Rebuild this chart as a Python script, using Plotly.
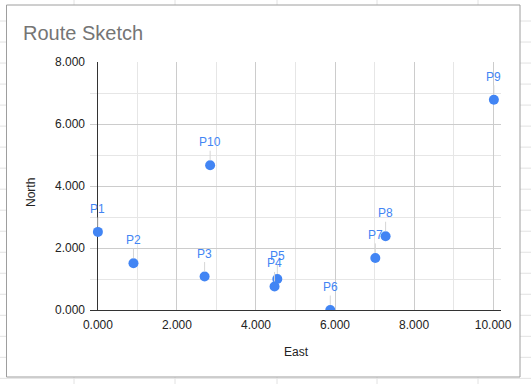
import plotly.graph_objects as go

labels = ["P1", "P2", "P3", "P4", "P5", "P6", "P7", "P8", "P9", "P10"]
east = [0.0, 0.9, 2.7, 4.47, 4.54, 5.88, 7.02, 7.28, 10.02, 2.84]
north = [2.52, 1.51, 1.08, 0.76, 1.0, 0.0, 1.68, 2.38, 6.78, 4.67]
x_ticks = [0, 2, 4, 6, 8, 10]
y_ticks = [0, 2, 4, 6, 8]

W, H = 531, 384
ML, MR, MT, MB = 90, 30, 62, 74
PW, PH = W - ML - MR, H - MT - MB


def px(x):
    return (x - ML) / PW


def py(y):
    return (H - MB - y) / PH


BLUE = "#4285F4"
FONT = "Arial, Liberation Sans, sans-serif"

fig = go.Figure()
fig.add_trace(go.Scatter(
    x=east, y=north, mode="markers",
    marker=dict(color=BLUE, size=10),
    cliponaxis=True, hoverinfo="skip", showlegend=False,
))

for lab, xv, yv in zip(labels, east, north):
    fig.add_annotation(
        x=xv, y=yv, text=lab, showarrow=True, ax=0, ay=-23,
        arrowhead=0, arrowwidth=1, arrowcolor="#d6d6d6", standoff=5,
        font=dict(color=BLUE, size=12, family=FONT),
    )

shapes = []
# spreadsheet background grid
sheet = "#e2e2e2"
for cx in [74, 175, 277, 377, 478]:
    shapes.append(dict(type="line", xref="paper", yref="paper",
                       x0=px(cx), x1=px(cx), y0=py(0), y1=py(H),
                       line=dict(color=sheet, width=1), layer="below"))
for k in range(1, 19):
    ry = 21.02 * k
    shapes.append(dict(type="line", xref="paper", yref="paper",
                       x0=px(0), x1=px(W), y0=py(ry), y1=py(ry),
                       line=dict(color=sheet, width=1), layer="below"))
# white chart card
shapes.append(dict(type="rect", xref="paper", yref="paper",
                   x0=px(6.5), x1=px(520), y0=py(5), y1=py(377),
                   fillcolor="white", line=dict(color="#9e9e9e", width=1),
                   layer="below"))
fig.update_layout(shapes=shapes)

fig.add_annotation(xref="paper", yref="paper", x=px(21), y=py(33),
                   xanchor="left", yanchor="middle", showarrow=False,
                   text="Route Sketch",
                   font=dict(size=20, color="#757575", family=FONT))
fig.add_annotation(xref="paper", yref="paper", x=px(31), y=py(193),
                   xanchor="center", yanchor="middle", showarrow=False,
                   text="North", textangle=-90,
                   font=dict(size=12, color="#222222", family=FONT))
fig.add_annotation(xref="paper", yref="paper", x=px(296), y=py(352),
                   xanchor="center", yanchor="middle", showarrow=False,
                   text="East",
                   font=dict(size=12, color="#222222", family=FONT))

fig.update_xaxes(
    range=[-0.2, 10.2], tickvals=x_ticks, tickformat=".3f",
    showgrid=True, gridcolor="#cccccc", gridwidth=1,
    minor=dict(dtick=1, showgrid=True, gridcolor="#e6e6e6", gridwidth=1),
    zeroline=True, zerolinecolor="#333333", zerolinewidth=1,
    showline=True, linecolor="#333333", linewidth=1,
    ticks="", ticklabelstandoff=4,
    tickfont=dict(size=12, color="#222222", family=FONT),
    fixedrange=True,
)
fig.update_yaxes(
    range=[0, 8], tickvals=y_ticks, tickformat=".3f",
    showgrid=True, gridcolor="#cccccc", gridwidth=1,
    minor=dict(dtick=1, showgrid=True, gridcolor="#e6e6e6", gridwidth=1),
    zeroline=False, showline=False,
    ticks="", ticklabelstandoff=4,
    tickfont=dict(size=12, color="#222222", family=FONT),
    fixedrange=True,
)

fig.update_layout(
    width=W, height=H, autosize=False,
    margin=dict(l=ML, r=MR, t=MT, b=MB, pad=0),
    paper_bgcolor="white", plot_bgcolor="rgba(0,0,0,0)",
    showlegend=False,
)

fig.write_html(
    "out.html",
    config={"displayModeBar": False},
    post_script="document.body.style.margin='0';document.body.style.overflow='hidden';",
)
